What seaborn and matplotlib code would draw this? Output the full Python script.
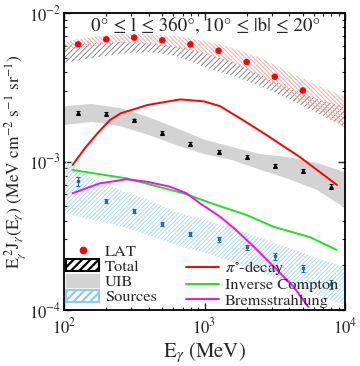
import numpy as np
import pandas as pd
import matplotlib
matplotlib.use("Agg")
import matplotlib.pyplot as plt
import seaborn as sns
from matplotlib.patches import Patch
from matplotlib.lines import Line2D

# ---------------- data ----------------
E_pts = [126, 200, 316, 501, 794, 1259, 1995, 3162, 5012, 7943]
lat = [6.15e-3, 6.65e-3, 6.83e-3, 6.55e-3, 6.15e-3, 5.57e-3, 4.68e-3, 3.72e-3, 3.01e-3]
uib = [2.13e-3, 2.08e-3, 1.89e-3, 1.56e-3, 1.31e-3, 1.16e-3, 1.08e-3, 9.33e-4, 8.63e-4, 6.76e-4]
uib_err = [0.035, 0.03, 0.03, 0.03, 0.03, 0.03, 0.03, 0.035, 0.035, 0.04]
src = [7.40e-4, 5.44e-4, 4.67e-4, 3.81e-4, 3.24e-4, 2.99e-4, 2.65e-4, 2.30e-4, 1.91e-4, 1.49e-4]
src_err = [0.07, 0.035, 0.03, 0.03, 0.035, 0.035, 0.04, 0.05, 0.06, 0.07]

E_band = [100, 158, 251, 398, 631, 1000, 1585, 2512, 3981, 6310, 10000]
lat_band_hi = [6.41e-3, 6.89e-3, 7.22e-3, 7.22e-3, 7.00e-3, 6.48e-3, 5.81e-3, 4.98e-3, 4.01e-3, 3.27e-3, 2.72e-3]
lat_band_lo = [5.63e-3, 5.99e-3, 6.28e-3, 6.18e-3, 5.81e-3, 5.30e-3, 4.61e-3, 3.65e-3, 2.85e-3, 2.22e-3, 1.68e-3]
tot_hi = [6.09e-3, 6.28e-3, 6.38e-3, 6.28e-3, 5.99e-3, 5.38e-3, 4.68e-3, 3.82e-3, 3.13e-3, 2.64e-3, 2.33e-3]
tot_lo = [4.61e-3, 4.98e-3, 5.30e-3, 5.46e-3, 5.13e-3, 4.33e-3, 3.77e-3, 3.22e-3, 2.64e-3, 2.12e-3, 1.71e-3]
uib_hi = [2.36e-3, 2.44e-3, 2.29e-3, 1.99e-3, 1.68e-3, 1.40e-3, 1.25e-3, 1.12e-3, 1.07e-3, 9.77e-4, 8.50e-4]
uib_lo = [1.76e-3, 1.85e-3, 1.73e-3, 1.51e-3, 1.29e-3, 1.12e-3, 1.02e-3, 8.77e-4, 7.62e-4, 6.43e-4, 4.86e-4]
src_hi = [1.02e-3, 7.74e-4, 6.43e-4, 5.50e-4, 4.57e-4, 4.04e-4, 3.57e-4, 3.05e-4, 2.62e-4, 2.24e-4, 1.95e-4]
src_lo = [4.57e-4, 4.04e-4, 3.68e-4, 3.20e-4, 2.74e-4, 2.42e-4, 2.10e-4, 1.80e-4, 1.52e-4, 1.26e-4, 1.08e-4]

E_pi = [115, 141, 173, 212, 253, 392, 670, 991, 1290, 1879, 2698, 4786, 8770]
pi_decay = [9.47e-4, 1.23e-3, 1.55e-3, 1.90e-3, 2.11e-3, 2.40e-3, 2.62e-3, 2.54e-3, 2.36e-3, 1.90e-3, 1.53e-3, 1.07e-3, 6.95e-4]
E_ic = [115, 279, 706, 1221, 1995, 3090, 5636, 8730]
ic = [8.77e-4, 7.70e-4, 6.11e-4, 5.09e-4, 4.36e-4, 3.64e-4, 3.09e-4, 2.54e-4]
E_br = [115, 180, 279, 388, 568, 746, 929, 1290, 1675, 2288, 3177, 4285, 5480]
brems = [6.11e-4, 7.13e-4, 7.59e-4, 7.31e-4, 6.77e-4, 6.11e-4, 5.23e-4, 4.25e-4, 3.46e-4, 2.62e-4, 1.92e-4, 1.44e-4, 1.05e-4]

labels = ["LAT", "Total", "UIB", "Sources", r"$\pi^{\circ}$-decay", "Inverse Compton", "Bremsstrahlung"]

# ---------------- style ----------------
sns.set_style("ticks")
plt.rcParams["font.family"] = ["STIXGeneral", "DejaVu Serif"]
plt.rcParams["mathtext.fontset"] = "stix"
plt.rcParams["hatch.linewidth"] = 0.7

fig = plt.figure(figsize=(3.6, 3.66), dpi=100)
ax = fig.add_axes([64 / 360, 1 - 310 / 366, 281 / 360, 297 / 366])
ax.set_xscale("log")
ax.set_yscale("log")

# bands
ax.fill_between(E_band, src_lo, src_hi, facecolor="none", edgecolor="#a9d9f3", hatch="////////", lw=0, zorder=1)
ax.fill_between(E_band, uib_lo, uib_hi, facecolor="#d3d3d3", edgecolor="none", lw=0, zorder=1)
ax.fill_between(E_band, tot_lo, tot_hi, facecolor="none", edgecolor="#888888", hatch="//////", lw=0, zorder=1)
ax.fill_between(E_band, lat_band_lo, lat_band_hi, facecolor="none", edgecolor="#f7a8a8",
                hatch="\\\\\\\\\\\\\\\\", lw=0, zorder=1)

# model lines
df_pi = pd.DataFrame({"E": E_pi, "J": pi_decay})
df_ic = pd.DataFrame({"E": E_ic, "J": ic})
df_br = pd.DataFrame({"E": E_br, "J": brems})
sns.lineplot(data=df_pi, x="E", y="J", color="#ff0000", lw=1.4, ax=ax, zorder=3)
sns.lineplot(data=df_ic, x="E", y="J", color="#22e022", lw=1.4, ax=ax, zorder=3)
sns.lineplot(data=df_br, x="E", y="J", color="#ee10ee", lw=1.4, ax=ax, zorder=3)

# data points
df_lat = pd.DataFrame({"E": E_pts[:len(lat)], "J": lat})
sns.scatterplot(data=df_lat, x="E", y="J", color="#ff0000", s=22, edgecolor="none", ax=ax, zorder=4)
uib_a = np.array(uib)
ax.errorbar(E_pts, uib, yerr=uib_a * np.array(uib_err), fmt="^", ms=2.5, color="black",
            capsize=1.5, elinewidth=0.8, capthick=0.8, zorder=4)
src_a = np.array(src)
ax.errorbar(E_pts, src, yerr=src_a * np.array(src_err), fmt="s", ms=2, color="#1f6fa6",
            capsize=1.5, elinewidth=0.8, capthick=0.8, zorder=4)

ax.set_xlim(100, 10000)
ax.set_ylim(1e-4, 1e-2)

# ticks
ax.tick_params(which="both", direction="in", top=True, right=True, labelsize=12)
ax.tick_params(which="major", length=5, width=1.0)
ax.tick_params(which="minor", length=2.5, width=0.8)
ax.tick_params(axis="y", pad=2)
ax.tick_params(axis="x", pad=5)
for s in ax.spines.values():
    s.set_linewidth(1.3)
    s.set_color("black")

ax.set_xlabel(r"E$_\gamma$ (MeV)", fontsize=15, labelpad=2)
ax.set_ylabel(r"E$_\gamma^{\ 2}$J$_\gamma$(E$_\gamma$) (MeV cm$^{-2}$ s$^{-1}$ sr$^{-1}$)", fontsize=12.5)
ax.yaxis.set_label_coords(-0.128, 0.5)

ax.text(0.505, 0.943, "0° ≤ l ≤ 360°, 10° ≤ |b| ≤ 20°", transform=ax.transAxes,
        ha="center", va="baseline", fontsize=13.7)

# legend
h_lat = Line2D([], [], marker="o", ls="none", color="#ff0000", ms=4.5)
plt.rcParams["hatch.linewidth"] = 1.6
h_tot = Patch(facecolor="white", edgecolor="black", hatch="////", lw=1.5)
h_uib = Patch(facecolor="#d3d3d3", edgecolor="#d3d3d3")
h_src = Patch(facecolor="white", edgecolor="#8ecbf0", hatch="////", lw=1.5)
h_blank = Line2D([], [], ls="none")
h_pi = Line2D([], [], color="#ff0000", lw=1.4)
h_ic = Line2D([], [], color="#22e022", lw=1.4)
h_br = Line2D([], [], color="#ee10ee", lw=1.4)
handles = [h_lat, h_tot, h_uib, h_src, h_blank, h_pi, h_ic, h_br]
leg_labels = [labels[0], labels[1], labels[2], labels[3], "", labels[4], labels[5], labels[6]]
ax.legend(handles, leg_labels, ncol=2, loc="lower left", bbox_to_anchor=(0.0, 0.0),
          frameon=False, fontsize=11.8, handlelength=2.0, handleheight=0.75,
          labelspacing=0.02, columnspacing=1.8, handletextpad=0.35, borderaxespad=0.05,
          borderpad=0.1)

fig.savefig("out.png", dpi=100)
